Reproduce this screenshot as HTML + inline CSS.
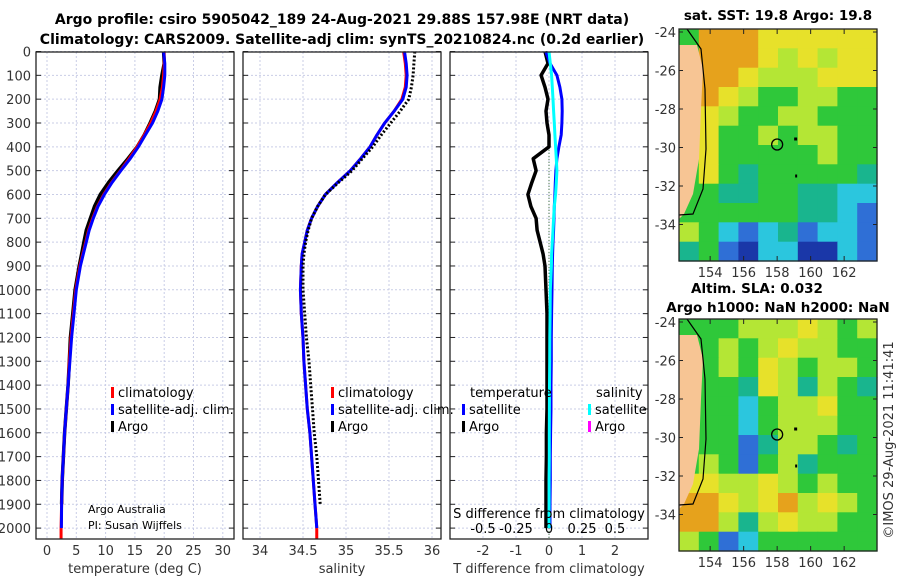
<!DOCTYPE html>
<html><head><meta charset="utf-8"><style>
body{margin:0;background:#fff;}
svg{display:block;font-family:"DejaVu Sans","Liberation Sans",sans-serif;}
</style></head><body>
<svg id="fig" width="900" height="580" viewBox="0 0 900 580" xmlns="http://www.w3.org/2000/svg">
<rect width="900" height="580" fill="#fff"/>
<g id="titles" font-weight="bold" font-size="13.5" text-anchor="middle" fill="#000">
<text x="342" y="24" font-size="14">Argo profile: csiro 5905042_189 24-Aug-2021 29.88S 157.98E (NRT data)</text>
<text x="342" y="44" font-size="14">Climatology: CARS2009. Satellite-adj clim: synTS_20210824.nc (0.2d earlier)</text>
<text x="778" y="20">sat. SST: 19.8 Argo: 19.8</text>
<text x="757" y="293">Altim. SLA: 0.032</text>
<text x="778" y="312">Argo h1000: NaN h2000: NaN</text>
</g>
<g id="grids"></g>
<g id="marks"></g>
<g id="maps"></g>
<g id="frames" fill="none" stroke="#222" stroke-width="1.3"></g>
<g id="labels" font-size="13" fill="#333"></g>
<text x="0" y="0" transform="translate(893,440) rotate(-90)" text-anchor="middle" font-size="13" fill="#333">©IMOS 29-Aug-2021 11:41:41</text>
</svg>
<script>
// ---- data ----
const depths = [0,50,100,150,200,250,300,350,400,450,500,550,600,650,700,750,800,850,900,1000,1100,1200,1300,1400,1500,1600,1700,1800,1900,2000];
const tempClim = [20.0,20.0,19.9,19.7,19.3,18.6,17.7,16.6,15.4,14.0,12.5,11.0,9.7,8.6,7.8,7.1,6.6,6.1,5.6,4.9,4.5,4.1,3.8,3.6,3.3,3.0,2.8,2.6,2.5,2.4];
const tempSat  = [19.9,20.1,20.1,19.9,19.6,18.9,18.0,16.8,15.6,14.2,12.6,11.1,9.8,8.7,7.9,7.2,6.7,6.2,5.7,5.0,4.6,4.2,3.9,3.6,3.3,3.0,2.8,2.6,2.5,2.45];
const tempArgo = [19.9,20.0,19.6,19.3,19.2,18.5,17.6,16.6,15.4,13.8,12.1,10.5,9.1,8.1,7.4,6.7,6.3,5.9,5.5,4.8,4.4,4.0,3.8,3.6,3.3,3.0,2.8,2.6,2.5,2.4];
const salClim = [35.67,35.69,35.70,35.69,35.65,35.56,35.45,35.36,35.28,35.17,35.05,34.90,34.76,34.67,34.60,34.55,34.52,34.49,34.48,34.47,34.48,34.50,34.51,34.53,34.55,34.58,34.60,34.62,34.64,34.66];
const salArgo = [35.80,35.79,35.78,35.76,35.73,35.63,35.52,35.41,35.31,35.19,35.07,34.91,34.76,34.67,34.60,34.56,34.53,34.51,34.50,34.50,34.52,34.54,34.57,34.59,34.61,34.63,34.66,34.68,34.70,34.72];
const tDiffSat  = [-0.1,0.03,0.24,0.33,0.39,0.40,0.39,0.37,0.30,0.24,0.21,0.19,0.18,0.16,0.15,0.14,0.12,0.11,0.10,0.09,0.08,0.07,0.07,0.06,0.06,0.05,0.04,0.04,0.03,0.03];
const tDiffArgo = [-0.12,-0.03,-0.24,-0.12,-0.03,-0.09,-0.06,0.0,0.0,-0.48,-0.39,-0.52,-0.64,-0.55,-0.39,-0.36,-0.27,-0.18,-0.12,-0.09,-0.06,-0.06,-0.06,-0.06,-0.06,-0.08,-0.08,-0.09,-0.09,-0.09];
const sDiffSat  = [0.0,0.01,0.02,0.025,0.03,0.035,0.04,0.045,0.05,0.055,0.06,0.055,0.05,0.04,0.035,0.03,0.025,0.02,0.018,0.01,0.008,0.006,0.005,0.004,0.003,0.002,0.002,0.001,0.001,0.0];
const yTicks = [0,100,200,300,400,500,600,700,800,900,1000,1100,1200,1300,1400,1500,1600,1700,1800,1900,2000];
const tTicks = [0,5,10,15,20,25,30];
const sTicks = [34,34.5,35,35.5,36];
const sTickLabels = ["34","34.5","35","35.5","36"];
const dTicks = [-2,-1,0,1,2];
const sdTicks = [-0.5,-0.25,0,0.25,0.5];
const lonTicks = [154,156,158,160,162];
const latTicks = [-24,-26,-28,-30,-32,-34];
// SST map color grid (10 cols x 12 rows)
const sstGrid = ["GOOOYYYYYY","GOOOYLYLYY","GOOYLLLYYY","GOYLGGLLGG","GYLGGLLGGG","GYGGLGLLGG","GYGGGGGLGG","GYGTGGGGGT","GGTTGGTTCC","GGGGGGTTCB","LGCBCTBCCB","TGBDCCDDCB"];
const slaGrid = ["GGGLLLYLGL","GGLGLYLLGG","GGLGYLGLLG","GGGTYLTLGT","GGGCGLLYGG","GGGCGLLLGG","GGGBTLLGTG","GLGBGLTGGG","YYLLYLGLGG","OOYLYOLYLG","OOLTLYLLGG","LGBCGGGGGG"];
const palette = {O:"#e6a21c",Y:"#e7e12a",L:"#b4e635",G:"#2fc83a",T:"#19b58e",C:"#2bc6de",B:"#2f6fd6",D:"#1a37a8"};

// ---- axes ----
const Y0=51.5, PXM=0.2383;
const yD = d => Y0 + d*PXM;
const P1 = {x0:36,x1:234}, P2={x0:243,x1:441}, P3={x0:450,x1:648};
const xT = t => 47 + t*5.86;
const xS = s => 260 + (s-34)*86;
const xDT = v => 549 + v*33;
const xDS = v => 549 + v*132;
const yTop=52, yBot=539;
const NS="http://www.w3.org/2000/svg";
function el(tag, attrs, parent, text){
  const e=document.createElementNS(NS,tag);
  for(const k in attrs) e.setAttribute(k,attrs[k]);
  if(text!==undefined) e.textContent=text;
  parent.appendChild(e); return e;
}
const grids=document.getElementById('grids'), marks=document.getElementById('marks'),
      frames=document.getElementById('frames'), labels=document.getElementById('labels'),
      maps=document.getElementById('maps');

// gridlines
[[P1,tTicks,xT],[P2,sTicks,xS],[P3,dTicks,xDT]].forEach(([P,ticks,fx],pi)=>{
  yTicks.forEach(d=>{
    const g=el('line',{x1:P.x0,x2:P.x1,y1:yD(d),y2:yD(d),stroke:'#c9cde6','stroke-width':1,'stroke-dasharray':'2,2'},grids);
    
    
    const t1=el('line',{x1:P.x0,x2:P.x0+5,y1:yD(d),y2:yD(d),stroke:'#222'},grids);
    
    
    el('line',{x1:P.x1-5,x2:P.x1,y1:yD(d),y2:yD(d),stroke:'#222'},grids);
  });
  ticks.forEach(v=>{
    const g=el('line',{x1:fx(v),x2:fx(v),y1:yTop,y2:yBot,stroke:'#c9cde6','stroke-width':1,'stroke-dasharray':'2,2'},grids);
    
    
  });
  const f=el('rect',{x:P.x0,y:yTop,width:P.x1-P.x0,height:yBot-yTop},frames);
  
  
});

// y tick labels
yTicks.forEach(d=>{
  const t=el('text',{x:31,y:yD(d)+5,'text-anchor':'end'},labels,String(d));
  
  
});
tTicks.forEach(v=>{
  const t=el('text',{x:xT(v),y:555,'text-anchor':'middle'},labels,String(v));
  
  
});
sTicks.forEach((v,i)=>{
  const t=el('text',{x:xS(v),y:555,'text-anchor':'middle'},labels,sTickLabels[i]);
  
  
});
dTicks.forEach(v=>{
  const t=el('text',{x:xDT(v),y:555,'text-anchor':'middle'},labels,String(v));
  
  
});
sdTicks.forEach(v=>{
  const t=el('text',{x:xDS(v),y:533,'text-anchor':'middle',fill:'#000'},labels,String(v));
  
  
});
[['temperature (deg C)',135,'x-axis-title-temperature'],['salinity',342,'x-axis-title-salinity'],['T difference from climatology',549,'x-axis-title-tdiff']].forEach(([s,x,n])=>{
  const t=el('text',{x:x,y:573,'text-anchor':'middle'},labels,s);
  
  
});
{const t=el('text',{x:549,y:518,'text-anchor':'middle',fill:'#000'},labels,'S difference from climatology');

}
{const t=el('text',{x:88,y:513,'font-size':11,fill:'#000'},labels,'Argo Australia');


const t2=el('text',{x:88,y:529,'font-size':11,fill:'#000'},labels,'PI: Susan Wijffels');

}

// lines
function path(xs, fx, opts, name, maxDepth){
  let d='';
  xs.forEach((v,i)=>{ if(maxDepth!==undefined && depths[i]>maxDepth) return; d+=(d?'L':'M')+fx(v).toFixed(1)+','+yD(depths[i]).toFixed(1);});
  const p=el('path',Object.assign({d:d,fill:'none','stroke-linejoin':'round'},opts),marks);
  
  
  return p;
}
{const r=el('line',{x1:xT(tempClim[tempClim.length-1]),x2:xT(tempClim[tempClim.length-1]),y1:yD(2000),y2:yBot,stroke:'#f00','stroke-width':3},marks);


const r2=el('line',{x1:xS(salClim[salClim.length-1]),x2:xS(salClim[salClim.length-1]),y1:yD(2000),y2:yBot,stroke:'#f00','stroke-width':3},marks);

}
path(tempArgo,xT,{stroke:'#000','stroke-width':3.5},'temp-argo-line',1990);
path(tempClim,xT,{stroke:'#f00','stroke-width':3},'temp-clim-line');
path(tempSat,xT,{stroke:'#00f','stroke-width':3},'temp-sat-line');
path(salClim,xS,{stroke:'#f00','stroke-width':3},'sal-clim-line');
path(salClim.map((v,i)=>v+(i<5?0.01:0)),xS,{stroke:'#00f','stroke-width':3},'sal-sat-line');
path(salArgo,xS,{stroke:'#000','stroke-width':3,'stroke-dasharray':'2,2'},'sal-argo-line',1985);
{const z=el('line',{x1:549,x2:549,y1:yD(350),y2:yBot,stroke:'#363','stroke-width':1,'stroke-dasharray':'1,2'},marks);

}
path(tDiffArgo,xDT,{stroke:'#000','stroke-width':3.5},'tdiff-argo-line');
path(tDiffSat,xDT,{stroke:'#00f','stroke-width':3},'tdiff-sat-line');
path(sDiffSat,xDS,{stroke:'#0ff','stroke-width':3},'sdiff-sat-line');

// legends
function legend(x,y,color,txt,name){
  const b=el('rect',{x:x,y:y-9,width:3,height:11,fill:color},labels);
  
  
  const t=el('text',{x:x+7,y:y+1,fill:'#000'},labels,txt);
  
  
}
legend(111,396,'#f00','climatology','legend-climatology');
legend(111,413,'#00f','satellite-adj. clim.','legend-satellite-adj');
legend(111,430,'#000','Argo','legend-argo');
legend(331,396,'#f00','climatology','legend2-climatology');
legend(331,413,'#00f','satellite-adj. clim.','legend2-satellite-adj');
legend(331,430,'#000','Argo','legend2-argo');
{const t=el('text',{x:470,y:397,fill:'#000'},labels,'temperature');


const t2=el('text',{x:596,y:397,fill:'#000'},labels,'salinity');

}
legend(462,413,'#00f','satellite','legend3-t-satellite');
legend(462,430,'#000','Argo','legend3-t-argo');
legend(588,413,'#0ff','satellite','legend3-s-satellite');
legend(588,430,'#f0f','Argo','legend3-s-argo');

// maps
function drawMap(grid, x0, y0, w, h, lat0y, name, coastEnd){
  const g=el('g',{},maps);
  
  
  const cw=w/10, ch=h/12;
  grid.forEach((row,r)=>{ [...row].forEach((c,ci)=>{
    const cell=el('rect',{x:(x0+ci*cw).toFixed(1),y:(y0+r*ch).toFixed(1),width:(cw+0.6).toFixed(1),height:(ch+0.6).toFixed(1),fill:palette[c]},g);
    
    
  });});
  const land=el('path',{d:`M${x0},${y0+16} L${x0+18},${y0+16} L${x0+24},${y0+40} L${x0+22},${y0+80} L${x0+20},${y0+130} L${x0+14},${y0+165} L${x0+5},${y0+185} L${x0},${y0+190} Z`,fill:'#f7c594'},g);
  
  
  const coast=el('path',{d:`M${x0+8},${y0} L${x0+22},${y0+20} L${x0+26},${y0+60} L${x0+27},${y0+120} L${x0+24},${y0+160} L${x0+14},${y0+185} L${x0},${coastEnd}`,fill:'none',stroke:'#000','stroke-width':1.2},g);
  
  
  const cx=x0+1+(158-152.2)*16.75;
  const cy=lat0y+(30-24)/2*38.5;
  const circ=el('circle',{cx:cx,cy:cy-3,r:5.5,fill:'none',stroke:'#000','stroke-width':1.3},g);
  
  
  el('rect',{x:cx+17,y:cy-10,width:3,height:3,fill:'#000'},g);
  el('rect',{x:cx+18,y:cy+27,width:2,height:3,fill:'#000'},g);
  const fr=el('rect',{x:x0,y:y0,width:w,height:h,fill:'none',stroke:'#222','stroke-width':1.3},g);
  
  
  lonTicks.forEach(lo=>{
    const x=x0+1+(lo-152.2)*16.75;
    el('line',{x1:x,x2:x,y1:y0,y2:y0+5,stroke:'#222'},g);
    el('line',{x1:x,x2:x,y1:y0+h-5,y2:y0+h,stroke:'#222'},g);
    const t=el('text',{x:x,y:y0+h+16,'text-anchor':'middle','font-size':13,fill:'#333'},g,String(lo));
    
    
  });
  latTicks.forEach(la=>{
    const y=lat0y+(-24-la)/2*38.5;
    el('line',{x1:x0,x2:x0+4,y1:y,y2:y,stroke:'#222'},g);
    el('line',{x1:x0+w-4,x2:x0+w,y1:y,y2:y,stroke:'#222'},g);
    const t=el('text',{x:x0-3,y:y+5,'text-anchor':'end','font-size':13,fill:'#333'},g,String(la));
    
    
  });
}
drawMap(sstGrid,679,29,198,232,32,'sst-map',215);
drawMap(slaGrid,679,319,198,232,322,'sla-map',505);
</script>
</body></html>
